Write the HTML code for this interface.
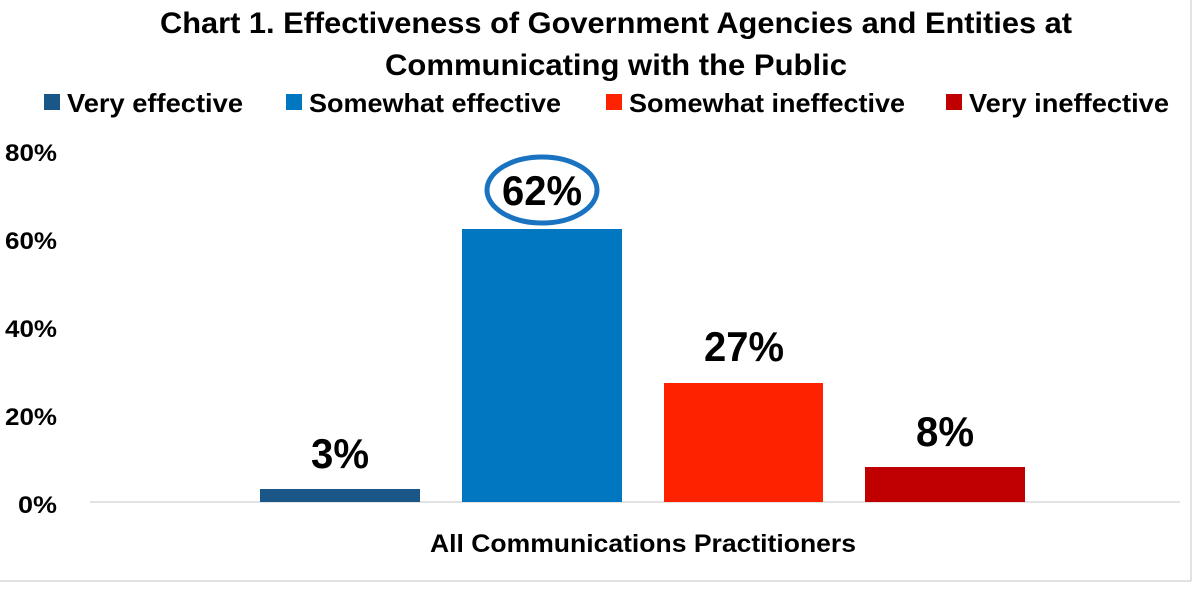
<!DOCTYPE html>
<html><head><meta charset="utf-8"><style>
html,body{margin:0;padding:0;background:#fff;}
svg{display:block;}
text{font-family:"Liberation Sans",Arial,sans-serif;font-weight:bold;fill:#000;}
</style></head><body>
<svg width="1196" height="593" viewBox="0 0 1196 593" xmlns="http://www.w3.org/2000/svg">
<rect x="0" y="0" width="1196" height="593" fill="#fff"/>
<line x1="1191" y1="0" x2="1191" y2="581" stroke="#d9d9d9" stroke-width="1.5"/>
<line x1="0" y1="581" x2="1191" y2="581" stroke="#d9d9d9" stroke-width="1.5"/>
<text x="616" y="33" font-size="30" text-anchor="middle" textLength="912" lengthAdjust="spacingAndGlyphs">Chart 1. Effectiveness of Government Agencies and Entities at</text>
<text x="616" y="75" font-size="30" text-anchor="middle" textLength="462" lengthAdjust="spacingAndGlyphs">Communicating with the Public</text>
<rect x="44" y="94" width="16" height="16" fill="#1a5687"/>
<text x="67" y="112" font-size="26" textLength="176" lengthAdjust="spacingAndGlyphs">Very effective</text>
<rect x="286" y="94" width="16" height="16" fill="#0077c0"/>
<text x="309" y="112" font-size="26" textLength="252" lengthAdjust="spacingAndGlyphs">Somewhat effective</text>
<rect x="606" y="94" width="16" height="16" fill="#ff2200"/>
<text x="629" y="112" font-size="26" textLength="276" lengthAdjust="spacingAndGlyphs">Somewhat ineffective</text>
<rect x="946" y="94" width="16" height="16" fill="#c00000"/>
<text x="969" y="112" font-size="26" textLength="200" lengthAdjust="spacingAndGlyphs">Very ineffective</text>
<g font-size="24">
<text x="5" y="161" textLength="52" lengthAdjust="spacingAndGlyphs">80%</text>
<text x="5" y="249" textLength="52" lengthAdjust="spacingAndGlyphs">60%</text>
<text x="5" y="337" textLength="52" lengthAdjust="spacingAndGlyphs">40%</text>
<text x="5" y="425" textLength="52" lengthAdjust="spacingAndGlyphs">20%</text>
<text x="18" y="513" textLength="39" lengthAdjust="spacingAndGlyphs">0%</text>
</g>
<line x1="90" y1="502" x2="1180" y2="502" stroke="#d9d9d9" stroke-width="1.5"/>
<rect x="260" y="489" width="160" height="13" fill="#1a5687"/>
<rect x="462" y="229" width="160" height="273" fill="#0077c0"/>
<rect x="664" y="383" width="159" height="119" fill="#ff2200"/>
<rect x="865" y="467" width="160" height="35" fill="#c00000"/>
<g font-size="42" text-anchor="middle">
<text x="340" y="468" textLength="58" lengthAdjust="spacingAndGlyphs">3%</text>
<text x="542" y="205" textLength="80" lengthAdjust="spacingAndGlyphs">62%</text>
<text x="744" y="361" textLength="80" lengthAdjust="spacingAndGlyphs">27%</text>
<text x="945" y="446" textLength="58" lengthAdjust="spacingAndGlyphs">8%</text>
</g>
<ellipse cx="542" cy="190" rx="55" ry="33" fill="none" stroke="#1a73c0" stroke-width="5"/>
<text x="643" y="552" font-size="25" text-anchor="middle" textLength="426" lengthAdjust="spacingAndGlyphs">All Communications Practitioners</text>
</svg>
</body></html>
